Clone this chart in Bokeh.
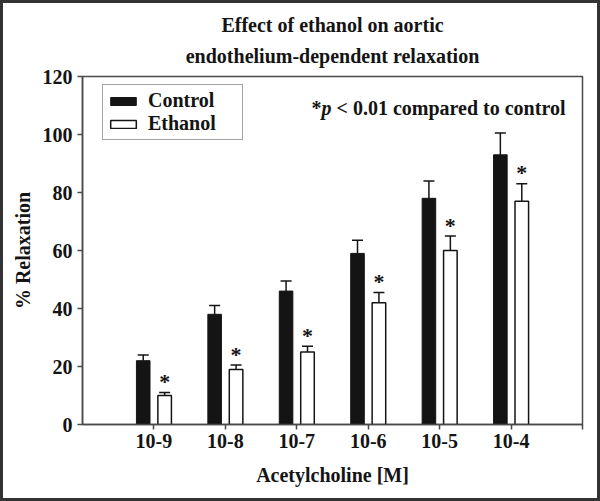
from bokeh.plotting import figure
from bokeh.models import Range1d, FixedTicker, Legend, LegendItem, Label, Title, ColumnDataSource, Whisker, TeeHead
from bokeh.transform import dodge
from bokeh.embed import file_html
from bokeh.resources import INLINE
from bokeh.core.properties import value

# ---- data ----
categories = ["10-9", "10-8", "10-7", "10-6", "10-5", "10-4"]
positions = [1, 2, 3, 4, 5, 6]
control = [22, 38, 46, 59, 78, 93]
control_err = [2, 3, 3.5, 4.5, 6, 7.5]
ethanol = [10, 19, 25, 42, 60, 77]
ethanol_err = [1, 1.5, 2, 3.5, 5, 6]
title_lines = ["Effect of ethanol on aortic", "endothelium-dependent relaxation"]

FONT = "Liberation Serif"
AX = "#4a4a4a"
INK = "#141414"

src = ColumnDataSource(data=dict(
    x=positions,
    control=control,
    control_up=[v + e for v, e in zip(control, control_err)],
    ethanol=ethanol,
    ethanol_up=[v + e for v, e in zip(ethanol, ethanol_err)],
    star=["*"] * len(positions),
))

p = figure(width=600, height=501, output_backend="svg", toolbar_location=None,
           x_range=Range1d(0, 7), y_range=Range1d(0, 120),
           min_border_left=82, min_border_right=18, min_border_top=76, min_border_bottom=77,
           styles={"background-color": "white", "box-shadow": "inset 0 0 0 3px #333333"})

p.xgrid.visible = False
p.ygrid.visible = False
p.outline_line_color = AX
p.outline_line_width = 1.5
p.background_fill_color = "white"
p.border_fill_alpha = 0

rc = p.vbar(x=dodge("x", -0.15), top="control", width=0.19, source=src,
            fill_color=INK, line_color=INK, line_width=1)
re = p.vbar(x=dodge("x", 0.15), top="ethanol", width=0.19, source=src,
            fill_color="white", line_color=INK, line_width=1.5)

for col, off in (("control", -0.15), ("ethanol", 0.15)):
    w = Whisker(source=src, base=dodge("x", off), lower=col, upper=col + "_up",
                line_color=INK, line_width=1.5,
                upper_head=TeeHead(size=11, line_color=INK, line_width=1.5),
                lower_head=None)
    p.add_layout(w)

p.text(x=dodge("x", 0.15), y="ethanol_up", text="star", source=src,
       text_font=value(FONT), text_font_style="bold", text_font_size="22px",
       text_align="center", text_baseline="alphabetic", y_offset=-11, text_color=INK)

# axes
p.xaxis.ticker = FixedTicker(ticks=positions + [7])
p.xaxis.major_label_overrides = {**{pos: lab for pos, lab in zip(positions, categories)}, 7: ""}
p.yaxis.ticker = FixedTicker(ticks=[0, 20, 40, 60, 80, 100, 120])
for ax in (p.xaxis[0], p.yaxis[0]):
    ax.axis_line_color = AX
    ax.axis_line_width = 1.5
    ax.major_tick_line_color = AX
    ax.major_tick_line_width = 1.5
    ax.major_tick_out = 5
    ax.major_tick_in = 0
    ax.minor_tick_line_color = None
    ax.major_label_text_font = FONT
    ax.major_label_text_font_style = "bold"
    ax.major_label_text_font_size = "20px"
    ax.major_label_text_color = INK
    ax.axis_label_text_font = FONT
    ax.axis_label_text_font_style = "bold"
    ax.axis_label_text_font_size = "20px"
    ax.axis_label_text_color = INK
p.xaxis.axis_label = "Acetylcholine [M]"
p.yaxis.axis_label = "% Relaxation"
p.xaxis.major_label_standoff = 4
p.xaxis.axis_label_standoff = 13
p.yaxis.major_label_standoff = 5
p.yaxis.axis_label_standoff = 6

# two-line title, each line centred over the plot area
title_kw = dict(align="center", text_font=FONT, text_font_style="bold",
                text_font_size="20px", text_color=INK)
p.add_layout(Title(text=title_lines[1], standoff=19, **title_kw), "above")
p.add_layout(Title(text=title_lines[0], standoff=-4, **title_kw), "above")

# significance note
note_kw = dict(y=109.3, text_font=FONT, text_font_size="20px", text_color=INK,
               text_baseline="alphabetic")
p.add_layout(Label(x=3.206, text="*", text_font_style="bold", **note_kw))
p.add_layout(Label(x=3.206, x_offset=10, text="p", text_font_style="bold italic", **note_kw))
p.add_layout(Label(x=3.206, x_offset=25, text="< 0.01 compared to control", text_font_style="bold", **note_kw))

legend = Legend(items=[LegendItem(label="Control", renderers=[rc]),
                       LegendItem(label="Ethanol", renderers=[re])],
                location=(20, 284), padding=4, spacing=0, margin=0,
                glyph_width=32, glyph_height=10, label_standoff=9, label_width=90,
                label_height=17,
                label_text_font=FONT, label_text_font_style="bold", label_text_font_size="20px",
                label_text_color=INK,
                border_line_color=AX, border_line_width=1.5, background_fill_color="white",
                background_fill_alpha=1)
p.add_layout(legend, "center")

open("out.html", "w").write(file_html(p, INLINE))
